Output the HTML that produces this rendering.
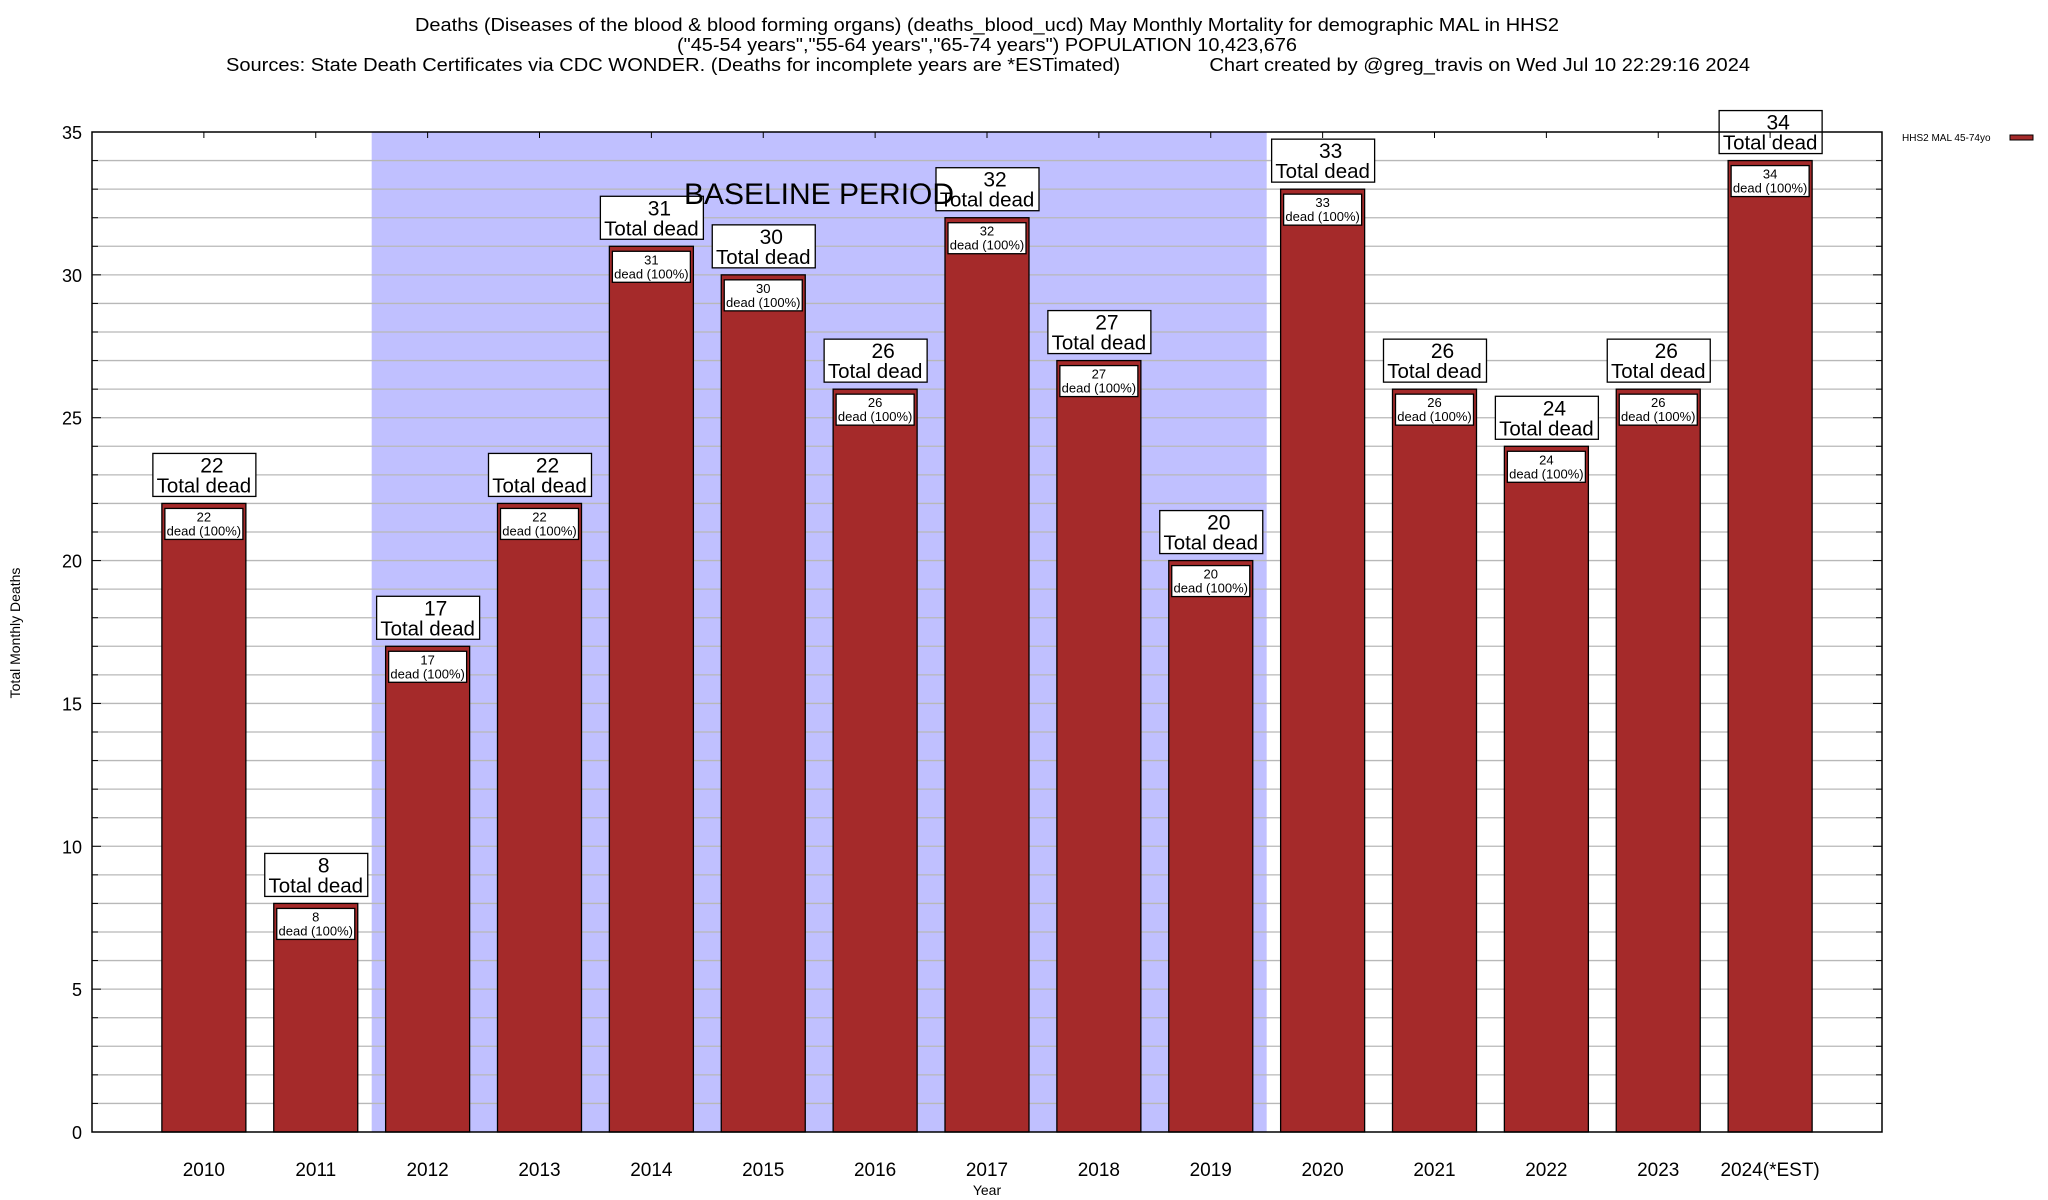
<!DOCTYPE html>
<html><head><meta charset="utf-8"><style>
body{margin:0;background:#fff}
svg{display:block;font-family:"Liberation Sans",Arial,sans-serif}
</style></head><body>
<svg id="chart" width="2048" height="1200" viewBox="0 0 2048 1200" xmlns="http://www.w3.org/2000/svg">
<g font-size="18.5" text-anchor="middle" fill="#000">
<text x="987" y="31" textLength="1144" lengthAdjust="spacingAndGlyphs">Deaths (Diseases of the blood &amp; blood forming organs) (deaths_blood_ucd) May Monthly Mortality for demographic MAL in HHS2</text>
<text x="987" y="51" textLength="620" lengthAdjust="spacingAndGlyphs">("45-54 years","55-64 years","65-74 years") POPULATION 10,423,676</text>
<text x="988" y="71" textLength="1524" lengthAdjust="spacingAndGlyphs" xml:space="preserve">Sources: State Death Certificates via CDC WONDER. (Deaths for incomplete years are *ESTimated)                Chart created by @greg_travis on Wed Jul 10 22:29:16 2024</text>
</g>
<g id="plot"></g>
</svg>
<script>
const categories=["2010","2011","2012","2013","2014","2015","2016","2017","2018","2019","2020","2021","2022","2023","2024(*EST)"];
const deaths=[22,8,17,22,31,30,26,32,27,20,33,26,24,26,34];
const yTicks=[0,5,10,15,20,25,30,35];
const baselineStart=2; const baselineEnd=9;
const L=92,R=1882,T=132,B=1132,YMAX=35;
const slot=(R-L)/(categories.length+1);
const xs=i=>L+slot*(i+1);
const ys=v=>B-(B-T)*v/YMAX;
const NS="http://www.w3.org/2000/svg";
const g=document.getElementById('plot');
function el(tag,attrs,parent,text){const e=document.createElementNS(NS,tag);for(const k in attrs)e.setAttribute(k,attrs[k]);if(text!==undefined)e.textContent=text;(parent||g).appendChild(e);return e;}
let sh=el('rect',{x:xs(baselineStart)-slot/2,y:T,width:slot*(baselineEnd-baselineStart+1),height:B-T,fill:'#c0c0ff'});


for(let v=1;v<YMAX;v++){
 let ln=el('line',{x1:L,x2:R,y1:ys(v),y2:ys(v),stroke:'#b8b8b8','stroke-width':1.3});
 
 
 el('line',{x1:L,x2:L+(v%5?6:9),y1:ys(v),y2:ys(v),stroke:'#000'});
 el('line',{x1:R,x2:R-(v%5?6:9),y1:ys(v),y2:ys(v),stroke:'#000'});
}
yTicks.forEach(v=>{let t=el('text',{x:82,y:ys(v)+7,'font-size':18,'text-anchor':'end'},g,String(v));
 
 });
const bw=84;
categories.forEach((c,i)=>{
 const cx=xs(i),top=ys(deaths[i]);
 let b=el('rect',{x:cx-bw/2,y:top,width:bw,height:B-top,fill:'#a52a2a',stroke:'#000','stroke-width':1.3});
 
 
 let ib=el('rect',{x:cx-bw/2+3,y:top+5,width:bw-6,height:31,fill:'#fff',stroke:'#000','stroke-width':1.3});
 
 
 el('text',{x:cx,y:top+18,'font-size':13,'text-anchor':'middle'},g,String(deaths[i]));
 el('text',{x:cx,y:top+32,'font-size':13,'text-anchor':'middle'},g,'dead (100%)');
 let ob=el('rect',{x:cx-51,y:top-50,width:103,height:43,fill:'#fff',stroke:'#000','stroke-width':1.3});
 
 
 el('text',{x:cx+8,y:top-31,'font-size':21,'text-anchor':'middle'},g,String(deaths[i]));
 el('text',{x:cx,y:top-11,'font-size':20.5,'text-anchor':'middle'},g,'Total dead');
 let xl=el('text',{x:cx,y:1176,'font-size':19,'text-anchor':'middle'},g,c);
 
 
 el('line',{x1:cx,x2:cx,y1:T,y2:T+6,stroke:'#000'});
});
let bl=el('text',{x:819,y:204,'font-size':30,'text-anchor':'middle'},g,'BASELINE PERIOD');


let fr=el('rect',{x:L,y:T,width:R-L,height:B-T,fill:'none',stroke:'#000','stroke-width':1.5});


let xt=el('text',{x:987,y:1195,'font-size':14,'text-anchor':'middle'},g,'Year');


let yt=el('text',{x:0,y:0,'font-size':14,'text-anchor':'middle',transform:'translate(20,633) rotate(-90)'},g,'Total Monthly Deaths');


let lg=el('text',{x:1902,y:141,'font-size':10},g,'HHS2 MAL 45-74yo');


let sw=el('rect',{x:2010,y:135,width:23,height:5,fill:'#a52a2a',stroke:'#000','stroke-width':1});


</script>
</body></html>
